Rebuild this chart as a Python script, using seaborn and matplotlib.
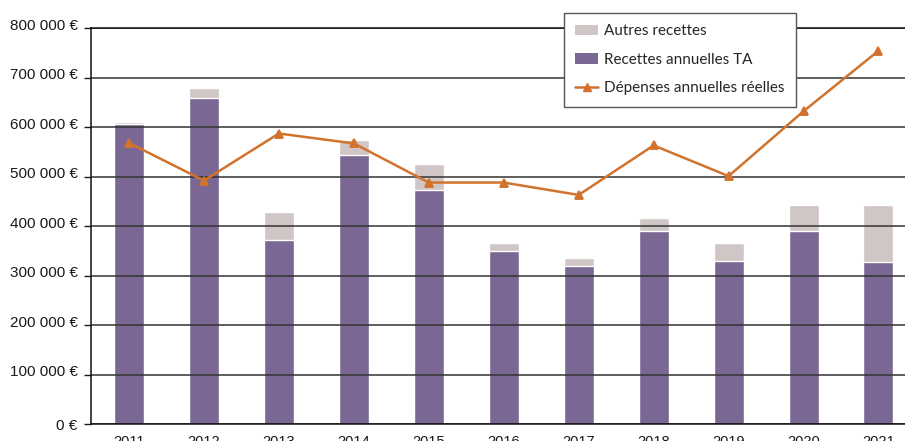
import numpy as np
import pandas as pd
import seaborn as sns
import matplotlib.pyplot as plt
import matplotlib.transforms as mtransforms
from matplotlib.patches import Patch
from matplotlib.lines import Line2D
from matplotlib.ticker import FuncFormatter

sns.set_style("white")
plt.rcParams['font.family'] = ['Liberation Sans', 'DejaVu Sans']

# valeurs (en euros)
annees = ['2011', '2012', '2013', '2014', '2015', '2016', '2017', '2018', '2019', '2020', '2021']
recettes_ta = [607000, 658000, 372000, 543000, 473000, 350000, 320000, 390000, 330000, 390000, 328000]
recettes_totales = [611000, 678000, 428000, 573000, 525000, 365000, 335000, 416000, 365000, 442000, 443000]
depenses = [568000, 492000, 587000, 567000, 488000, 488000, 463000, 563000, 501000, 632000, 754000]

violet = '#7B6794'
gris = '#D0C6C6'
orange = '#D2732D'

df = pd.DataFrame({'annee': annees, 'ta': recettes_ta,
                   'total': recettes_totales, 'depenses': depenses})

fig = plt.figure(figsize=(9.05, 4.41), dpi=100)
ax = fig.add_axes([0.1011, 0.0379, 0.911, 0.8986])

# barres empilées : total (autres recettes) puis recettes TA par-dessus
sns.barplot(ax=ax, data=df, x='annee', y='total', color=gris, width=0.4, saturation=1)
sns.barplot(ax=ax, data=df, x='annee', y='ta', color=violet, width=0.4, saturation=1)
sns.pointplot(ax=ax, data=df, x='annee', y='depenses', color=orange, markers='^',
              linestyles='-', markersize=5.5, linewidth=1.8, errorbar=None)

ax.set_xlim(-0.5, 10.5)
ax.set_ylim(0, 800000)
ax.set_yticks(np.arange(0, 800001, 100000))
ax.yaxis.set_major_formatter(FuncFormatter(lambda v, p: '{:,.0f} €'.format(v).replace(',', ' ')))
ax.set_xlabel('')
ax.set_ylabel('')

ax.yaxis.grid(True, color='#333333', linewidth=1.1)
ax.set_axisbelow('line')

for s in ['left', 'bottom', 'top']:
    ax.spines[s].set_color('#111111')
    ax.spines[s].set_linewidth(1.1)
ax.spines['right'].set_visible(False)

ax.set_xticks(np.arange(-0.5, 11, 1), minor=True)
ax.tick_params(axis='x', which='major', length=0, pad=8, labelsize=10.5, colors='#1a1a1a')
ax.tick_params(axis='x', which='minor', length=4, width=1, direction='out', color='#111111')
ax.tick_params(axis='y', length=5, width=1, direction='out', pad=5, labelsize=11,
               colors='#1a1a1a', left=True)

# les étiquettes de l'axe y sont un peu au-dessus des lignes
decalage = mtransforms.ScaledTranslation(0, 4 / 100, fig.dpi_scale_trans)
for lab in ax.get_yticklabels()[1:]:
    lab.set_transform(lab.get_transform() + decalage)

handles = [Patch(facecolor=gris, edgecolor='none', label='Autres recettes'),
           Patch(facecolor=violet, edgecolor='none', label='Recettes annuelles TA'),
           Line2D([0], [0], color=orange, marker='^', markersize=6, linewidth=1.8,
                  label='Dépenses annuelles réelles')]
leg = fig.legend(handles=handles, loc='upper left', bbox_to_anchor=(0.623, 0.971),
                 prop={'family': 'Lato', 'size': 11}, frameon=True, fancybox=False,
                 edgecolor='#555555', framealpha=1, labelspacing=0.95, handlelength=1.5,
                 handletextpad=0.4, borderpad=0.75, borderaxespad=0)
leg.get_frame().set_linewidth(1.0)

fig.savefig('out.png', dpi=100)
